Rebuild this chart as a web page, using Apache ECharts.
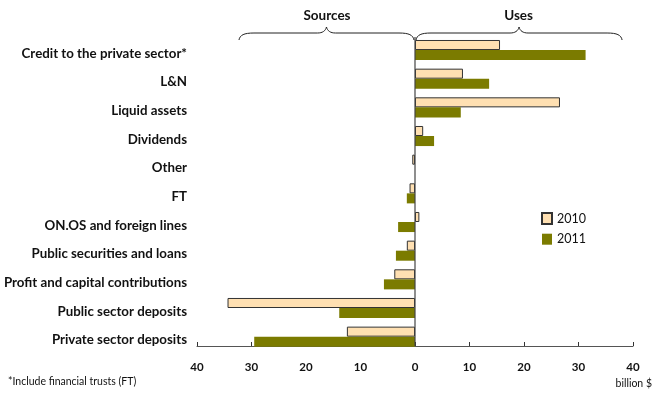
<!DOCTYPE html>
<html>
<head>
<meta charset="utf-8">
<script src="https://cdn.jsdelivr.net/npm/echarts@6/dist/echarts.min.js"></script>
<style>
  html, body { margin: 0; padding: 0; background: #fff; }
  #chart { width: 652px; height: 394px; }
</style>
</head>
<body>
<div id="chart"></div>
<script>
// Sources and uses of funds, billion $ (negative = sources, positive = uses)
const categories = [
  'Credit to the private sector*',
  'L&N',
  'Liquid assets',
  'Dividends',
  'Other',
  'FT',
  'ON.OS and foreign lines',
  'Public securities and loans',
  'Profit and capital contributions',
  'Public sector deposits',
  'Private sector deposits'
];
const values2010 = [15.6, 8.8, 26.6, 1.5, -0.5, -1.0, 0.8, -1.5, -3.8, -34.4, -12.5];
const values2011 = [31.3, 13.6, 8.4, 3.5, 0, -1.5, -3.1, -3.5, -5.7, -13.9, -29.5];
const tickValues = [-40, -30, -20, -10, 0, 10, 20, 30, 40];

const FONT = 'Lato';
const chart = echarts.init(document.getElementById('chart'), null, { renderer: 'canvas' });

const braceStyle = { fill: null, stroke: '#222', lineWidth: 1 };

// Curly brace spanning x0..x1 with its point at the middle, brace line at y
function brace(x0, x1, y) {
  const mid = (x0 + x1) / 2;
  const curve = (sx, sy, c1x, c1y, c2x, c2y, ex, ey) => ({
    type: 'bezierCurve', silent: true,
    shape: { x1: sx, y1: sy, cpx1: c1x, cpy1: c1y, cpx2: c2x, cpy2: c2y, x2: ex, y2: ey },
    style: braceStyle
  });
  const seg = (sx, sy, ex, ey) => ({
    type: 'line', silent: true,
    shape: { x1: sx, y1: sy, x2: ex, y2: ey },
    style: braceStyle
  });
  return [
    curve(x0, y + 7, x0 + 1, y + 2, x0 + 5, y, x0 + 15, y),
    seg(x0 + 15, y, mid - 9, y),
    curve(mid - 9, y, mid - 4, y, mid - 1, y - 2, mid, y - 6),
    curve(mid, y - 6, mid + 1, y - 2, mid + 4, y, mid + 9, y),
    seg(mid + 9, y, x1 - 15, y),
    curve(x1 - 15, y, x1 - 5, y, x1 - 1, y + 2, x1, y + 7)
  ];
}

const option = {
  animation: false,
  backgroundColor: '#ffffff',
  textStyle: { fontFamily: FONT },
  grid: { left: 197, right: 19, top: 35.7, height: 315.3, containLabel: false },
  legend: {
    orient: 'vertical',
    left: 536,
    top: 207,
    itemWidth: 10,
    itemHeight: 11,
    itemGap: 7.7,
    icon: 'rect',
    textStyle: { fontFamily: FONT, fontSize: 12.5, color: '#111' },
    data: ['2010', '2011']
  },
  xAxis: {
    type: 'value',
    min: -40,
    max: 40,
    interval: 10,
    offset: -5,
    splitLine: { show: false },
    axisLine: { show: true, onZero: false, lineStyle: { color: '#555', width: 1 } },
    axisTick: { show: true, inside: true, length: 4, lineStyle: { color: '#333' } },
    axisLabel: {
      margin: 15,
      fontFamily: FONT,
      fontWeight: 'bold',
      fontSize: 11.5,
      color: '#111',
      formatter: v => tickValues.includes(v) ? String(Math.abs(v)) : ''
    }
  },
  yAxis: {
    type: 'category',
    data: categories,
    inverse: true,
    axisLine: { show: false },
    axisTick: { show: false },
    axisLabel: {
      margin: 10,
      fontFamily: FONT,
      fontWeight: 'bold',
      fontSize: 13.3,
      color: '#111',
      verticalAlign: 'top',
      padding: [-3, 0, 0, 0]
    }
  },
  series: [
    {
      name: '2010',
      type: 'bar',
      data: values2010,
      barGap: '0%',
      barCategoryGap: '30%',
      itemStyle: { color: '#FFE0B2', borderColor: '#333', borderWidth: 1 },
      z: 2
    },
    {
      name: '2011',
      type: 'bar',
      data: values2011,
      itemStyle: { color: '#7B7B00' },
      z: 2
    }
  ]
};

chart.setOption(option);

// Zero line, braces and notes, placed from the value axis scale
const zeroX = chart.convertToPixel({ xAxisIndex: 0 }, 0);
const leftX = chart.convertToPixel({ xAxisIndex: 0 }, -32.3);
const rightX = chart.convertToPixel({ xAxisIndex: 0 }, 38.0);
const braceY = 33;
const graphics = [
  { type: 'line', silent: true, z: 5,
    shape: { x1: zeroX, y1: 37, x2: zeroX, y2: 346 },
    style: { stroke: '#444', lineWidth: 1.2 } },
  ...brace(leftX, zeroX - 1, braceY),
  ...brace(zeroX + 1, rightX, braceY),
  { type: 'text', x: (leftX + zeroX) / 2, y: 16,
    style: { text: 'Sources', fontFamily: FONT, fontWeight: 'bold', fontSize: 13.5, fill: '#111', align: 'center', verticalAlign: 'middle' } },
  { type: 'text', x: (zeroX + rightX) / 2, y: 16,
    style: { text: 'Uses', fontFamily: FONT, fontWeight: 'bold', fontSize: 13.5, fill: '#111', align: 'center', verticalAlign: 'middle' } },
  { type: 'text', x: 8, y: 382,
    style: { text: '*Include financial trusts (FT)', fontFamily: FONT, fontSize: 10.5, fill: '#111', align: 'left', verticalAlign: 'middle' } },
  { type: 'text', x: 652, y: 384,
    style: { text: 'billion $', fontFamily: FONT, fontSize: 10.5, fill: '#111', align: 'right', verticalAlign: 'middle' } }
];
chart.setOption({ graphic: graphics });
</script>
</body>
</html>
